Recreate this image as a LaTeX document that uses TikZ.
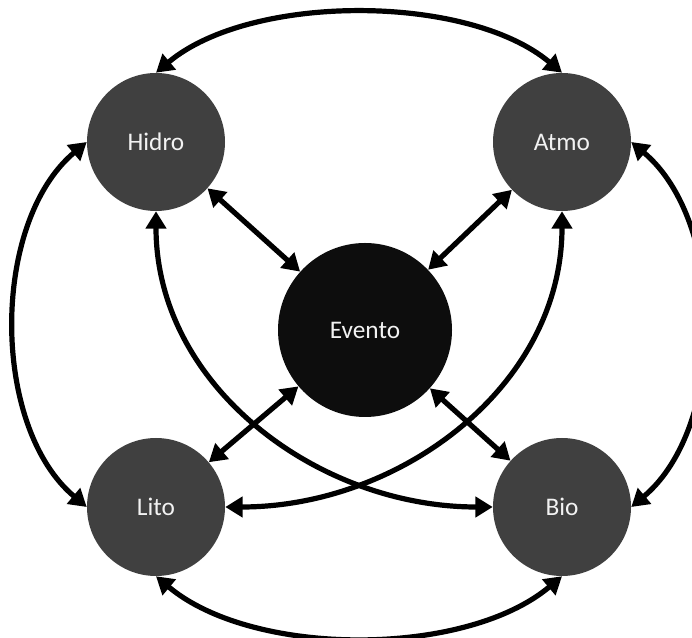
\documentclass[tikz,border=0pt]{standalone}
\usepackage{fontspec}
\setmainfont{Carlito}
\usetikzlibrary{arrows.meta}
\definecolor{gris}{HTML}{404040}
\definecolor{negro}{HTML}{0D0D0D}
\definecolor{blanco}{HTML}{F2F2F2}
\tikzset{
	esfera/.style={circle,fill=gris,text=blanco,inner sep=0pt,minimum size=103.5pt,font=\fontsize{19}{23}\selectfont},
	evento/.style={esfera,fill=negro,minimum size=130.5pt},
	flecha/.style={<->,line width=3.9pt}
}
\begin{document}
\begin{tikzpicture}[x=.75pt,y=.75pt,>={Triangle[length=13pt,width=15pt]}]
	\clip (0,0) rectangle (692,638);
	\path
	(156,496) node[esfera] (H) {Hidro}
	(562,496) node[esfera] (A) {Atmo}
	(365,308) node[evento] (E) {Evento}
	(156,131) node[esfera] (L) {Lito}
	(562,131) node[esfera] (B) {Bio};
	\foreach \esf in {H,A,L,B} \draw[flecha] (\esf)--(E);
	% arcos exteriores
	\draw[flecha] (H.north) to[out=40,in=140,looseness=.78] (A.north);
	\draw[flecha] (L.south) to[out=-40,in=-140,looseness=.8] (B.south);
	\draw[flecha] (H.west) to[out=220,in=140,looseness=.88] (L.west);
	\draw[flecha] (A.east) to[out=-40,in=40,looseness=.88] (B.east);
	% cruzados
	\draw[flecha] (H.south) to[out=-90,in=180] (B.west);
	\draw[flecha] (A.south) to[out=-90,in=0] (L.east);
\end{tikzpicture}
\end{document}
